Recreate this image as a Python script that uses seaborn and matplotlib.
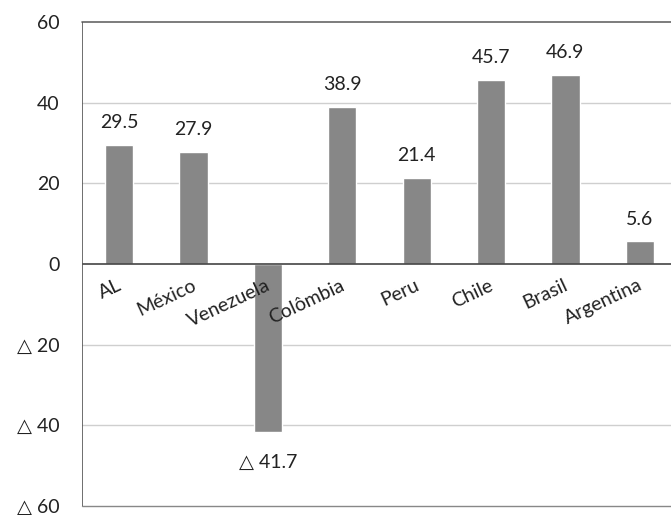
import matplotlib
matplotlib.use("Agg")
import matplotlib.pyplot as plt
import seaborn as sns
import pandas as pd

countries = ["AL", "México", "Venezuela", "Colômbia", "Peru", "Chile", "Brasil", "Argentina"]
values = [29.5, 27.9, -41.7, 38.9, 21.4, 45.7, 46.9, 5.6]
y_ticks = [-60, -40, -20, 0, 20, 40, 60]
y_tick_labels = ["△ 60", "△ 40", "△ 20", "0", "20", "40", "60"]

sns.set_theme(style="white")
plt.rcParams["font.family"] = ["Lato", "DejaVu Sans"]

df = pd.DataFrame({"pais": countries, "valor": values})

fig = plt.figure(figsize=(6.71, 5.15), dpi=100)
ax = fig.add_axes([0.122, 0.0175, 0.887, 0.9395])

sns.barplot(data=df, x="pais", y="valor", color="#878787", width=0.38,
            saturation=1, ax=ax, zorder=3)

ax.set_ylim(-60, 60)
ax.set_xlim(-0.5, 7.5)
ax.set_yticks(y_ticks)
ax.set_yticklabels(y_tick_labels, fontsize=14, color="#222222")
ax.tick_params(axis="y", length=0, pad=16)
ax.set_xticks([])
ax.set_xlabel("")
ax.set_ylabel("")

for yv in [-40, -20, 20, 40]:
    ax.axhline(yv, color="#cfcfcf", lw=1.0, zorder=1)
ax.axhline(0, color="#444444", lw=1.2, zorder=4)

for side in ["top", "bottom", "left", "right"]:
    ax.spines[side].set_visible(False)
ax.axhline(60, color="#666666", lw=1.2, zorder=4, clip_on=False)
ax.axhline(-60, color="#888888", lw=1.0, zorder=4, clip_on=False)
ax.axvline(-0.5, color="#555555", lw=1.2, zorder=4)

for i, v in enumerate(values):
    if v >= 0:
        ax.annotate(f"{v:.1f}", (i, v), xytext=(0, 16), textcoords="offset points",
                    ha="center", va="center", fontsize=14, color="#222222")
    else:
        ax.annotate(f"△ {abs(v):.1f}", (i, v), xytext=(0, -22), textcoords="offset points",
                    ha="center", va="center", fontsize=14, color="#222222")

for i, name in enumerate(countries):
    ax.text(i + 0.02, -5.0, name, rotation=25, rotation_mode="anchor",
            ha="right", va="center", fontsize=14, color="#222222", zorder=5)

fig.savefig("out.png", dpi=100)
